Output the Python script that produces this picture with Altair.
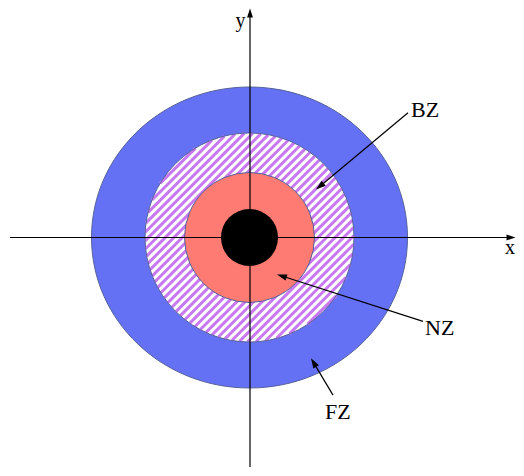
import altair as alt
import numpy as np
import pandas as pd

# ---- data (pixel-like units, origin at the axes crossing, y up) ----
zone_names = ["FZ", "hatch", "NZ", "core"]
zone_rx = [158.0, 104.5, 65.0, 28.5]
zone_ry = [150.5, 104.5, 65.0, 28.5]
zone_fill = ["#6571f4", "#ffffff", "#fe7b73", "#000000"]

label_text = ["BZ", "NZ", "FZ", "x", "y"]
label_x = [161.5, 175.5, 75.5, 255.5, -14.0]
label_y = [121.0, -98.0, -182.0, -17.0, 210.5]
label_size = [22, 22, 22, 20, 20]

arrow_names = ["BZ", "NZ", "FZ", "xaxis", "yaxis"]
arrow_x0 = [158.5, 173.5, 83.5, -239.5, 0.5]
arrow_y0 = [125.0, -84.0, -158.0, 0.0, -230.0]
arrow_x1 = [66.5, 27.5, 61.5, 266.0, 0.5]
arrow_y1 = [48.0, -37.0, -121.0, 0.0, 229.5]
arrow_len = [10.0, 10.0, 10.0, 9.0, 9.0]

hatch_period = 6.0
hatch_color = "#c879f2"

W, H = 508, 460
xs = alt.Scale(domain=[8 - 249.5, 8 + W - 249.5], nice=False, zero=False)
ys = alt.Scale(domain=[230 - H, 230], nice=False, zero=False)
X = lambda f: alt.X(f, type="quantitative", scale=xs, axis=None)
Y = lambda f: alt.Y(f, type="quantitative", scale=ys, axis=None)

def zone_df(i):
    return pd.DataFrame({"x": [0.0], "y": [0.0], "size": [(2 * zone_rx[i]) ** 2]})

ratio = zone_ry[0] / zone_rx[0]
ellipse_path = f"M-1,0A1,{ratio:.4f},0,1,0,1,0A1,{ratio:.4f},0,1,0,-1,0Z"
edge = "#55629a"

layers = []
# outer (FZ) ellipse
layers.append(
    alt.Chart(zone_df(0)).mark_point(shape=ellipse_path, filled=True, fill=zone_fill[0],
                                     stroke=edge, strokeWidth=1, opacity=1)
    .encode(x=X("x"), y=Y("y"), size=alt.Size("size:Q", scale=None, legend=None))
)
# white base of hatched ring
layers.append(
    alt.Chart(zone_df(1)).mark_point(shape="circle", filled=True, fill=zone_fill[1],
                                     strokeWidth=0, opacity=1)
    .encode(x=X("x"), y=Y("y"), size=alt.Size("size:Q", scale=None, legend=None))
)
# hatch lines clipped to the hatched circle
R = zone_rx[1]
ds = np.arange(-R + hatch_period / 2, R, hatch_period)
h = np.sqrt(np.maximum(R ** 2 - ds ** 2, 0))
ux, uy = 1 / np.sqrt(2), 1 / np.sqrt(2)
nx, ny = 1 / np.sqrt(2), -1 / np.sqrt(2)
hatch = pd.DataFrame({
    "x": ds * nx - h * ux, "y": ds * ny - h * uy,
    "x2": ds * nx + h * ux, "y2": ds * ny + h * uy,
})
layers.append(
    alt.Chart(hatch).mark_rule(color=hatch_color, strokeWidth=3)
    .encode(x=X("x"), y=Y("y"), x2="x2:Q", y2="y2:Q")
)
layers.append(
    alt.Chart(zone_df(1)).mark_point(shape="circle", filled=False, stroke=edge,
                                     strokeWidth=1, opacity=1)
    .encode(x=X("x"), y=Y("y"), size=alt.Size("size:Q", scale=None, legend=None))
)
# red NZ and black core
for i in (2, 3):
    layers.append(
        alt.Chart(zone_df(i)).mark_point(shape="circle", filled=True, fill=zone_fill[i],
                                         stroke=edge if i == 2 else "#000000",
                                         strokeWidth=1 if i == 2 else 0, opacity=1)
        .encode(x=X("x"), y=Y("y"), size=alt.Size("size:Q", scale=None, legend=None))
    )

# arrows (lines + heads)
adf = pd.DataFrame({"name": arrow_names, "x": arrow_x0, "y": arrow_y0,
                    "x2": arrow_x1, "y2": arrow_y1, "L": arrow_len})
dx = adf["x2"] - adf["x"]
dy = adf["y2"] - adf["y"]
n = np.sqrt(dx ** 2 + dy ** 2)
adf["hx"] = adf["x2"] - dx / n * adf["L"] / 2
adf["hy"] = adf["y2"] - dy / n * adf["L"] / 2
adf["ang"] = np.degrees(np.arctan2(dx, dy)) % 360
adf["hsize"] = adf["L"] ** 2
adf["lx2"] = adf["x2"] - dx / n * adf["L"] * 0.6
adf["ly2"] = adf["y2"] - dy / n * adf["L"] * 0.6

layers.append(
    alt.Chart(adf).mark_rule(color="#000000", strokeWidth=1.2)
    .encode(x=X("x"), y=Y("y"), x2="lx2:Q", y2="ly2:Q")
)
layers.append(
    alt.Chart(adf).mark_point(shape="M0,-1L0.65,1L-0.65,1Z", filled=True, fill="#000000",
                              strokeWidth=0, opacity=1)
    .encode(x=X("hx"), y=Y("hy"),
            size=alt.Size("hsize:Q", scale=None, legend=None),
            angle=alt.Angle("ang:Q", scale=None))
)

# labels
ldf = pd.DataFrame({"t": label_text, "x": label_x, "y": label_y, "fs": label_size})
layers.append(
    alt.Chart(ldf).mark_text(font="Liberation Serif", align="left",
                             baseline="alphabetic", color="#000000")
    .encode(x=X("x"), y=Y("y"), text="t:N",
            size=alt.Size("fs:Q", scale=None, legend=None))
)

chart = alt.layer(*layers).properties(
    width=W, height=H, padding=0,
    autosize=alt.AutoSizeParams(type="fit", contains="padding"),
    background="#ffffff",
).configure_view(stroke=None)

chart.save("out.html", embed_options={"renderer": "svg", "actions": False})
